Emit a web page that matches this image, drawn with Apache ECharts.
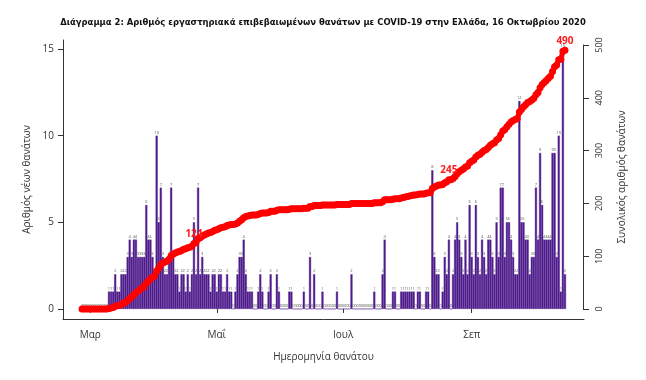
<!DOCTYPE html>
<html><head><meta charset="utf-8">
<script src="https://cdn.jsdelivr.net/npm/echarts@6/dist/echarts.min.js"></script>
<style>html,body{margin:0;padding:0;background:#fff}#c{width:646px;height:380px}</style>
</head><body><div id="c"></div>
<script>
// ---- data ----
const startDate = '2020-02-26';
const dailyDeaths = [
  0,0,0,0,0,0,0,0,0,0,0,0,0,          // Feb 26 - Mar 9
  1,1,1,2,1,1,2,2,2,3,4,3,4,          // i13-25
  4,3,3,3,3,6,4,4,3,2,10,             // i26-36
  5,7,3,2,2,3,                        // i37-42
  7,3,2,2,1,2,2,1,2,1,2,5,            // i43-54
  2,7,2,                              // i55-57
  3,2,2,2,1,2,2,1,                    // i58-65
  2,2,1,1,2,1,1,0,1,2,3,              // i66-76
  3,4,2,1,1,1,0,0,1,2,1,0,0,1,        // i77-90
  2,0,0,2,1,0,0,0,0,1,                // i91-100
  1,0,0,0,0,0,1,0,0,3,                // i101-110
  0,2,0,0,0,1,0,0,0,0,                // i111-120
  0,0,1,0,0,0,0,0,0,2,                // i121-130
  0,0,0,0,0,0,0,0,0,0,                // i131-140
  1,0,0,0,2,                          // i141-145
  4,0,0,0,1,1,0,0,1,1,1,1,1,1,1,0,1,1,0,0,1,1,0, // i146-168
  8,                                  // i169
  3,2,2,0,1,3,2,4,0,2,                // i170-179
  4,5,4,3,2,4,2,6,                    // i180-187
  3,2,6,3,2,4,3,2,4,4,3,2,5,3,        // i188-201
  7,7,3,5,5,4,3,2,2,                  // i202-210
  12,                                 // i211
  5,5,4,4,2,3,3,                      // i212-218
  7,4,9,6,4,4,4,4,                    // i219-226
  9,9,3,10,1,15,2                     // i227-233 (Oct 16)
];
const tickDates = ['2020-03-01','2020-05-01','2020-07-01','2020-09-01'];
const tickLabels = ['Μαρ','Μαΐ','Ιουλ','Σεπ'];
const leftTicks = [0,5,10,15];
const rightTicks = [0,100,200,300,400,500];
const markedTotals = [123,245,490];

// ---- derived ----
const dates = [];
const t0 = Date.parse(startDate + 'T00:00:00Z');
for (let i = 0; i < dailyDeaths.length; i++) dates.push(new Date(t0 + i * 86400000).toISOString().slice(0,10));
const cumulative = []; let s = 0;
dailyDeaths.forEach(v => { s += v; cumulative.push(s); });
const labelIdx = markedTotals.map(t => { const k = cumulative.findIndex(c => c >= t); return k < 0 ? cumulative.length - 1 : k; });
const lineData = cumulative.map((c, i) => labelIdx.includes(i) ? { value: c, label: { show: true } } : c);

const FONT = 'Open Sans';
const AX = '#333';
const isTick = (idx, val) => tickDates.includes(val);

const chart = echarts.init(document.getElementById('c'), null, { renderer: 'canvas' });
chart.setOption({
  animation: false,
  backgroundColor: '#fff',
  title: {
    text: 'Διάγραμμα 2: Αριθμός εργαστηριακά επιβεβαιωμένων θανάτων με COVID-19 στην Ελλάδα, 16 Οκτωβρίου 2020',
    left: 'center', top: 13,
    textStyle: { fontFamily: 'DejaVu Sans Condensed, sans-serif', fontSize: 9.4, fontWeight: 'bold', color: '#111' }
  },
  grid: [
    { left: 63, right: 62, top: 40, bottom: 61 },   // box
    { left: 81, right: 80, top: 40, bottom: 61 },   // bars
    { left: 81, right: 80, top: 45, bottom: 71 }    // cumulative
  ],
  xAxis: [
    { gridIndex: 0, type: 'value', min: 0, max: 1, axisLine: { show: true, lineStyle: { color: AX } },
      axisTick: { show: false }, axisLabel: { show: false }, splitLine: { show: false } },
    { gridIndex: 1, type: 'category', data: dates, boundaryGap: true, offset: 3,
      axisLine: { show: false },
      axisTick: { show: true, alignWithLabel: true, interval: isTick, length: 4, lineStyle: { color: AX } },
      axisLabel: { interval: isTick, formatter: v => tickLabels[tickDates.indexOf(v)], margin: 8,
        fontFamily: FONT, fontSize: 10, color: '#333' },
      name: 'Ημερομηνία θανάτου', nameLocation: 'middle', nameGap: 30,
      nameTextStyle: { fontFamily: FONT, fontSize: 10, color: '#333' },
      splitLine: { show: false } },
    { gridIndex: 2, type: 'category', data: dates, boundaryGap: true, show: false }
  ],
  yAxis: [
    { gridIndex: 0, type: 'value', show: false },
    { gridIndex: 1, type: 'value', position: 'left', offset: 18, min: -0.58, max: 15.52,
      axisLine: { show: true, lineStyle: { color: AX } },
      axisTick: { show: true, customValues: leftTicks, length: 5, lineStyle: { color: AX } },
      axisLabel: { customValues: leftTicks, margin: 9, fontFamily: FONT, fontSize: 10, color: '#333' },
      splitLine: { show: false },
      name: 'Αριθμός νέων θανάτων', nameLocation: 'middle', nameRotate: 90, nameGap: 31,
      nameTextStyle: { fontFamily: FONT, fontSize: 10, color: '#333' } },
    { gridIndex: 2, type: 'value', position: 'right', offset: 17, min: 0, max: 500, interval: 100,
      axisLine: { show: true, lineStyle: { color: AX } },
      axisTick: { show: true, length: 6, lineStyle: { color: AX } },
      axisLabel: { rotate: 90, margin: 12, fontFamily: FONT, fontSize: 9, color: '#333' },
      splitLine: { show: false },
      name: 'Συνολικός αριθμός θανάτων', nameLocation: 'middle', nameRotate: 90, nameGap: 34,
      nameTextStyle: { fontFamily: FONT, fontSize: 10, color: '#333' } }
  ],
  series: [
    { type: 'bar', xAxisIndex: 1, yAxisIndex: 1, data: dailyDeaths, barCategoryGap: '0%', barGap: '0%',
      itemStyle: { color: '#4f1d8c', borderColor: '#4f1d8c', borderWidth: 0.4 },
      label: { show: true, position: 'top', distance: 1, fontSize: 4, color: '#555', fontFamily: FONT },
      z: 2 },
    { type: 'line', xAxisIndex: 2, yAxisIndex: 2, data: lineData,
      lineStyle: { color: '#ff0000', width: 5 }, itemStyle: { color: '#ff0000' },
      symbol: 'circle', symbolSize: 7, showAllSymbol: true,
      label: { show: false, position: 'top', distance: 1, color: '#ff1a1a', fontSize: 10, fontFamily: FONT, fontWeight: 'bold' },
      z: 5 }
  ]
});
</script></body></html>
